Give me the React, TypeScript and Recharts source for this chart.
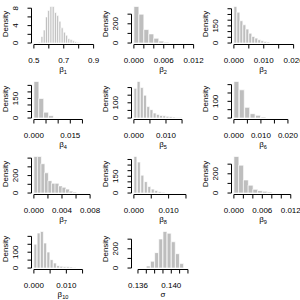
import { ComposedChart, Bar, XAxis, YAxis, ReferenceLine } from 'recharts';

const FONT = '"Liberation Sans", Arial, Helvetica, sans-serif';

// bin midpoints and densities
const b1Mid = [0.54, 0.555, 0.57, 0.585, 0.6, 0.615, 0.63, 0.645, 0.66, 0.675, 0.69, 0.705, 0.72, 0.735, 0.75, 0.765, 0.78, 0.795, 0.81];
const b1Dens = [0.2, 1.5, 3, 6, 7.5, 8.4, 8.4, 7, 6.3, 5, 3.5, 2.5, 1.8, 1, 0.8, 0.5, 0.3, 0.2, 0.1];

const b2Mid = [0.0005, 0.0015, 0.0025, 0.0035, 0.0045, 0.0055, 0.0065];
const b2Dens = [380, 300, 140, 95, 50, 20, 8];

const b3Mid = [0.0005, 0.0015, 0.0025, 0.0035, 0.0045, 0.0055, 0.0065, 0.0075, 0.0085, 0.0095, 0.0105, 0.0115];
const b3Dens = [320, 270, 195, 160, 122, 86, 58, 43, 29, 20, 14, 9];

const b4Mid = [0.001, 0.003, 0.005, 0.007, 0.009];
const b4Dens = [280, 150, 45, 18, 3];

const b5Mid = [0.0005, 0.0015, 0.0025, 0.0035, 0.0045, 0.0055, 0.0065, 0.0075, 0.0085, 0.0095, 0.0105, 0.0115, 0.0125, 0.0135, 0.0145];
const b5Dens = [195, 240, 200, 150, 75, 55, 33, 24, 17, 15, 11, 9, 6, 4, 4];

const b6Mid = [0.001, 0.003, 0.005, 0.007, 0.009, 0.011];
const b6Dens = [219, 169, 64, 26, 16, 6];

const b7Mid = [0.00025, 0.00075, 0.00125, 0.00175, 0.00225, 0.00275, 0.00325, 0.00375, 0.00425, 0.00475, 0.00525, 0.00575];
const b7Dens = [419, 419, 336, 232, 142, 112, 112, 82, 67, 45, 22, 11];

const b8Mid = [0.0005, 0.0015, 0.0025, 0.0035, 0.0045, 0.0055, 0.0065, 0.0075, 0.0085];
const b8Dens = [327, 277, 160, 102, 58, 35, 23, 12, 6];

const b9Mid = [0.0005, 0.0015, 0.0025, 0.0035, 0.0045, 0.0055, 0.0065, 0.0075];
const b9Dens = [380, 290, 136, 82, 39, 25, 18, 11];

const b10Mid = [0.0005, 0.0015, 0.0025, 0.0035, 0.0045, 0.0055, 0.0065, 0.0075, 0.0085, 0.0095, 0.0105, 0.0115, 0.0125];
const b10Dens = [151, 221, 231, 158, 101, 53, 32, 15, 11, 8, 8, 6, 4];

const sigMid = [0.13725, 0.13775, 0.13825, 0.13875, 0.13925, 0.13975, 0.14025, 0.14075, 0.14125];
const sigDens = [21, 71, 160, 302, 380, 362, 273, 149, 46];

// axis ticks and labels ('' = tick without label)
const b1XTicks = [0.5, 0.6, 0.7, 0.8, 0.9];
const b1XLabels = ['0.5', '', '0.7', '', '0.9'];
const b2XTicks = [0, 0.002, 0.004, 0.006, 0.008, 0.01, 0.012];
const b2XLabels = ['0.000', '', '', '0.006', '', '', '0.012'];
const b3XTicks = [0, 0.005, 0.01, 0.015, 0.02];
const b3XLabels = ['0.000', '', '0.010', '', '0.020'];
const b4XTicks = [0, 0.005, 0.01, 0.015, 0.02];
const b4XLabels = ['0.000', '', '', '0.015', ''];
const b5XTicks = [0, 0.005, 0.01, 0.015];
const b5XLabels = ['0.000', '', '0.010', ''];
const b6XTicks = [0, 0.005, 0.01, 0.015, 0.02];
const b6XLabels = ['0.000', '', '0.010', '', '0.020'];
const b7XTicks = [0, 0.002, 0.004, 0.006, 0.008];
const b7XLabels = ['0.000', '', '0.004', '', '0.008'];
const b8XTicks = [0, 0.005, 0.01, 0.015];
const b8XLabels = ['0.000', '', '0.010', ''];
const b9XTicks = [0, 0.002, 0.004, 0.006, 0.008, 0.01, 0.012];
const b9XLabels = ['0.000', '', '', '0.006', '', '', '0.012'];
const b10XTicks = [0, 0.005, 0.01, 0.015];
const b10XLabels = ['0.000', '', '0.010', ''];
const sigXTicks = [0.136, 0.137, 0.138, 0.139, 0.14, 0.141, 0.142];
const sigXLabels = ['0.136', '', '', '', '0.140', '', ''];

const panels = [
  { sub: '1', mid: b1Mid, dens: b1Dens, xlim: [0.5, 0.9], xTicks: b1XTicks, xLabels: b1XLabels, yTicks: [0, 2, 4, 6, 8], yLabels: ['0', '', '4', '', '8'] },
  { sub: '2', mid: b2Mid, dens: b2Dens, xlim: [0, 0.012], xTicks: b2XTicks, xLabels: b2XLabels, yTicks: [0, 100, 200, 300], yLabels: ['0', '', '200', ''] },
  { sub: '3', mid: b3Mid, dens: b3Dens, xlim: [0, 0.02], xTicks: b3XTicks, xLabels: b3XLabels, yTicks: [0, 50, 100, 150, 200, 250, 300], yLabels: ['0', '', '', '150', '', '', ''] },
  { sub: '4', mid: b4Mid, dens: b4Dens, xlim: [0, 0.0246], xTicks: b4XTicks, xLabels: b4XLabels, yTicks: [0, 50, 100, 150, 200, 250], yLabels: ['0', '', '', '150', '', ''] },
  { sub: '5', mid: b5Mid, dens: b5Dens, xlim: [0, 0.0186], xTicks: b5XTicks, xLabels: b5XLabels, yTicks: [0, 50, 100, 150, 200], yLabels: ['0', '', '100', '', ''] },
  { sub: '6', mid: b6Mid, dens: b6Dens, xlim: [0, 0.0221], xTicks: b6XTicks, xLabels: b6XLabels, yTicks: [0, 50, 100, 150, 200], yLabels: ['0', '', '100', '', ''] },
  { sub: '7', mid: b7Mid, dens: b7Dens, xlim: [0, 0.0085], xTicks: b7XTicks, xLabels: b7XLabels, yTicks: [0, 100, 200, 300, 400], yLabels: ['0', '', '200', '', ''] },
  { sub: '8', mid: b8Mid, dens: b8Dens, xlim: [0, 0.0172], xTicks: b8XTicks, xLabels: b8XLabels, yTicks: [0, 50, 100, 150, 200, 250, 300], yLabels: ['0', '', '', '150', '', '', ''] },
  { sub: '9', mid: b9Mid, dens: b9Dens, xlim: [0, 0.0126], xTicks: b9XTicks, xLabels: b9XLabels, yTicks: [0, 100, 200, 300], yLabels: ['0', '', '200', ''] },
  { sub: '10', mid: b10Mid, dens: b10Dens, xlim: [0, 0.0184], xTicks: b10XTicks, xLabels: b10XLabels, yTicks: [0, 50, 100, 150, 200], yLabels: ['0', '', '100', '', ''] },
  { sub: '', mid: sigMid, dens: sigDens, xlim: [0.13551, 0.14268], xTicks: sigXTicks, xLabels: sigXLabels, yTicks: [0, 100, 200, 300], yLabels: ['0', '', '200', ''] },
];

// R-style 4% axis extension
const ext = (lo: number, hi: number) => {
  const r = hi - lo;
  return [lo - 0.04 * r, hi + 0.04 * r];
};

function Hist({ p }: { p: any }) {
  const data = p.mid.map((x: number, i: number) => ({ x, d: p.dens[i] }));
  const ymax = Math.max(...p.dens);
  const xd = ext(p.xlim[0], p.xlim[1]);
  const yd = ext(0, ymax);

  const xTick = (t: any) => (
    <text x={t.x} y={63} textAnchor="middle" fontSize={8} fontFamily={FONT} fill="#000">
      {p.xLabels[t.index]}
    </text>
  );
  const yTick = (t: any) => (
    <text x={18.5} y={t.y} transform={`rotate(-90 18.5 ${t.y})`} textAnchor="middle" fontSize={8} fontFamily={FONT} fill="#000">
      {p.yLabels[t.index]}
    </text>
  );

  return (
    <ComposedChart width={112} height={75} data={data} margin={{ top: 5, right: 16, bottom: 0.5, left: 0.5 }} barCategoryGap={0} barGap={0}>
      <XAxis
        dataKey="x"
        type="number"
        domain={xd}
        allowDataOverflow
        ticks={p.xTicks}
        interval={0}
        height={30}
        tickSize={4}
        axisLine={false}
        tickLine={{ stroke: '#000' }}
        tick={xTick}
        label={{
          content: () => (
            <text x={63} y={72} textAnchor="middle" fontSize={8} fontFamily={FONT} fill="#000">
              {p.sub ? 'β' : 'σ'}
              {p.sub ? <tspan dy={1.8} fontSize={5.6}>{p.sub}</tspan> : null}
            </text>
          ),
        }}
      />
      <YAxis
        type="number"
        domain={yd}
        allowDataOverflow
        ticks={p.yTicks}
        interval={0}
        width={31}
        tickSize={4}
        axisLine={false}
        tickLine={{ stroke: '#000' }}
        tick={yTick}
        label={{
          content: () => (
            <text x={8.3} y={24} transform="rotate(-90 8.3 24)" textAnchor="middle" fontSize={8} fontFamily={FONT} fill="#000">
              Density
            </text>
          ),
        }}
      />
      <Bar dataKey="d" fill="#bebebe" stroke="#ffffff" strokeWidth={0.7} isAnimationActive={false} />
      <ReferenceLine
        segment={[{ x: p.xTicks[0], y: yd[0] }, { x: p.xTicks[p.xTicks.length - 1], y: yd[0] }]}
        stroke="#000"
        ifOverflow="visible"
      />
      <ReferenceLine
        segment={[{ x: xd[0], y: p.yTicks[0] }, { x: xd[0], y: p.yTicks[p.yTicks.length - 1] }]}
        stroke="#000"
        ifOverflow="visible"
      />
    </ComposedChart>
  );
}

export default function App() {
  return (
    <div style={{ position: 'absolute', left: 0, top: 0, width: 300, height: 300, overflow: 'hidden', background: '#fff' }}>
      {panels.map((p, i) => (
        <div key={i} style={{ position: 'absolute', left: (i % 3) * 100, top: Math.floor(i / 3) * 75 }}>
          <Hist p={p} />
        </div>
      ))}
    </div>
  );
}
